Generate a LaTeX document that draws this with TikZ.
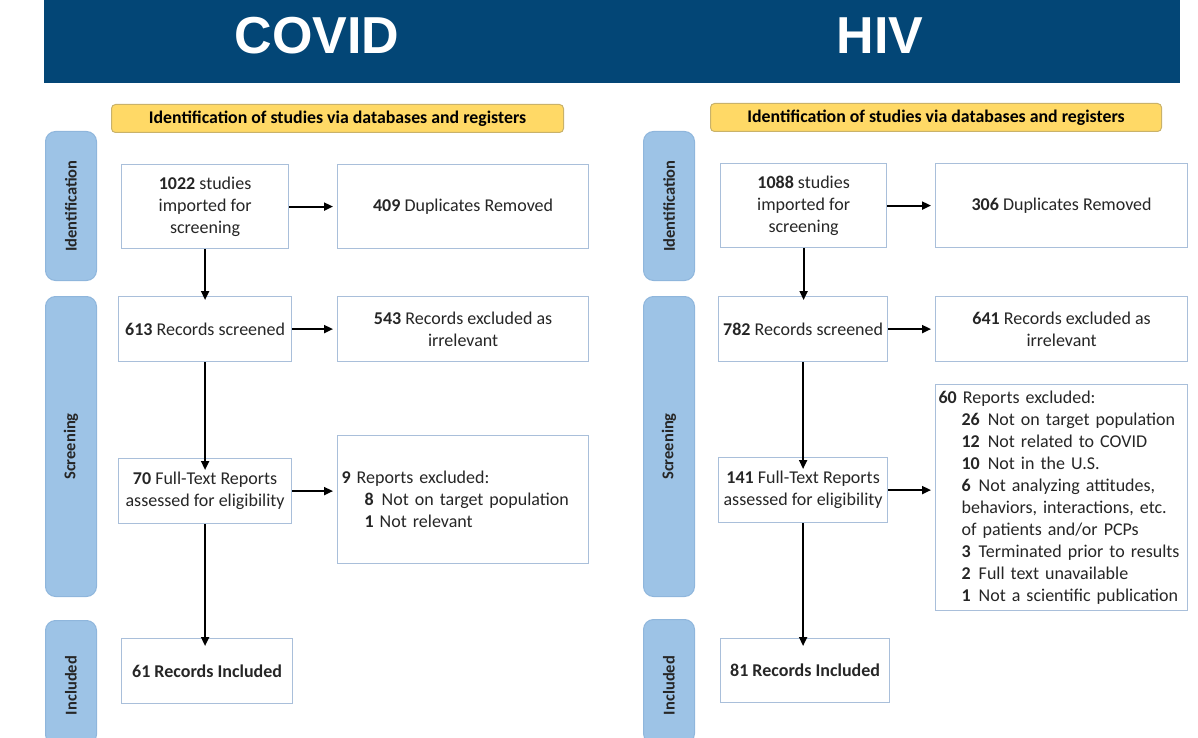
\documentclass[tikz,border=0pt]{standalone}
\usepackage{fontspec}
\setmainfont{Carlito}
\newfontfamily\titlefont{Liberation Sans}
\usetikzlibrary{arrows.meta}
\definecolor{bannerblue}{HTML}{034676}
\definecolor{hdrfill}{HTML}{FFD966}
\definecolor{hdrdraw}{HTML}{C9B26A}
\definecolor{sidefill}{HTML}{9DC3E6}
\definecolor{sidedraw}{HTML}{8FB6DC}
\definecolor{boxdraw}{HTML}{A9BFDA}
\definecolor{txt}{HTML}{262626}
\tikzset{
  x=1pt, y=-1pt,
  box/.style={draw=boxdraw, line width=1.2pt, fill=white, inner sep=0pt, anchor=north west, align=center,
    text=txt, font=\fontsize{18}{22}\selectfont},
  hdr/.style={draw=hdrdraw, line width=1pt, fill=hdrfill, rounded corners=4pt, anchor=north west, inner sep=0pt,
    font=\fontsize{17.8}{20}\selectfont\bfseries, text=black},
  side/.style={draw=sidedraw, line width=1pt, fill=sidefill, rounded corners=10pt, anchor=north west, inner sep=0pt},
  sidetxt/.style={rotate=90, font=\fontsize{16.5}{19}\selectfont\bfseries, text=txt},
  arr/.style={-{Triangle[length=9pt,width=8pt]}, line width=2pt, black},
  ttl/.style={text=white, font=\titlefont\fontsize{52}{60}\selectfont\bfseries}
}
\begin{document}
\begin{tikzpicture}
\useasboundingbox (0,0) rectangle (1198,738);
% banner
\node[fill=bannerblue, anchor=north west, minimum width=1136pt, minimum height=83pt, inner sep=0pt] (banner) at (44,0) {};
\node[ttl] (tcovid) at (317,36) {COVID};
\node[ttl] (thiv) at (880,36) {HIV};

% ---------------- COVID ----------------
\node[hdr, minimum width=452pt, minimum height=28pt] (lh) at (111,104) {Identification of studies via databases and registers};
\node[side, minimum width=51pt, minimum height=149pt] (ls1) at (45,131) {};
\node[sidetxt] at (ls1.center) {Identification};
\node[side, minimum width=51pt, minimum height=300pt] (ls2) at (45,296) {};
\node[sidetxt] at (ls2.center) {Screening};
\node[side, minimum width=51pt, minimum height=124pt] (ls3) at (45,620) {};
\node[sidetxt] at ([yshift=-3pt]ls3.center) {Included};

\node[box, minimum width=167pt, minimum height=84pt] (la) at (121,164) {\textbf{1022} studies\\imported for\\screening};
\node[box, minimum width=251pt, minimum height=84pt] (lb) at (337,164) {\textbf{409} Duplicates Removed};
\node[box, minimum width=173pt, minimum height=65pt] (lc) at (118,296) {\textbf{613} Records screened};
\node[box, minimum width=251pt, minimum height=65pt] (ld) at (337,296) {\textbf{543} Records excluded as\\irrelevant};
\node[box, minimum width=173pt, minimum height=65pt] (le) at (118,458) {\textbf{70} Full-Text Reports\\assessed for eligibility};
\node[box, minimum width=251pt, minimum height=128pt, align=left, text width=243pt] (lf) at (337,435)
  {\textbf{9} Reports excluded:\\
   \hspace*{23pt}\textbf{8}\hspace{8pt}Not on target population\\
   \hspace*{23pt}\textbf{1} Not relevant};
\node[box, minimum width=171pt, minimum height=65pt] (lg) at (121,638) {\textbf{61 Records Included}};

\draw[arr] (la.east) -- ([xshift=-4pt]lb.west);
\draw[arr] (la.south) -- ([yshift=-4pt]la.south |- lc.north);
\draw[arr] (lc.east) -- ([xshift=-4pt]ld.west);
\draw[arr] (lc.south) -- ([yshift=-12pt]lc.south |- le.north);
\draw[arr] (le.east) -- ([xshift=-4pt]le.east -| lf.west);
\draw[arr] (le.south) -- ([yshift=-8pt]le.south |- lg.north);

% ---------------- HIV ----------------
\node[hdr, minimum width=451pt, minimum height=28pt] (rh) at (710,103) {Identification of studies via databases and registers};
\node[side, minimum width=51pt, minimum height=149pt] (rs1) at (643,131) {};
\node[sidetxt] at (rs1.center) {Identification};
\node[side, minimum width=51pt, minimum height=300pt] (rs2) at (643,296) {};
\node[sidetxt] at (rs2.center) {Screening};
\node[side, minimum width=51pt, minimum height=124pt] (rs3) at (643,619) {};
\node[sidetxt] at ([yshift=-4pt]rs3.center) {Included};

\node[box, minimum width=166pt, minimum height=84pt] (ra) at (720,163) {\textbf{1088} studies\\imported for\\screening};
\node[box, minimum width=252pt, minimum height=84pt] (rb) at (935,163) {\textbf{306} Duplicates Removed};
\node[box, minimum width=169pt, minimum height=65pt] (rc) at (718,296) {\textbf{782} Records screened};
\node[box, minimum width=252pt, minimum height=65pt] (rd) at (935,296) {\textbf{641} Records excluded as\\irrelevant};
\node[box, minimum width=169pt, minimum height=65pt] (re) at (718,457) {\textbf{141} Full-Text Reports\\assessed for eligibility};
\node[box, minimum width=252pt, minimum height=226pt, align=left, text width=246pt] (rf) at (935,384)
  {\textbf{60} Reports excluded:\\
   \hspace*{23pt}\textbf{26}\hspace{8pt}Not on target population\\
   \hspace*{23pt}\textbf{12}\hspace{8pt}Not related to COVID\\
   \hspace*{23pt}\textbf{10}\hspace{8pt}Not in the U.S.\\
   \hspace*{23pt}\textbf{6}\hspace{8pt}Not analyzing attitudes,\\
   \hspace*{23pt}behaviors, interactions, etc.\\
   \hspace*{23pt}of patients and/or PCPs\\
   \hspace*{23pt}\textbf{3}\hspace{8pt}Terminated prior to results\\
   \hspace*{23pt}\textbf{2}\hspace{8pt}Full text unavailable\\
   \hspace*{23pt}\textbf{1}\hspace{8pt}Not a scientific publication};
\node[box, minimum width=169pt, minimum height=64pt] (rg) at (720,638) {\textbf{81 Records Included}};

\draw[arr] (ra.east) -- ([xshift=-4pt]rb.west);
\draw[arr] (ra.south) -- ([yshift=-4pt]ra.south |- rc.north);
\draw[arr] (rc.east) -- ([xshift=-4pt]rd.west);
\draw[arr] (rc.south) -- ([yshift=-12pt]rc.south |- re.north);
\draw[arr] (re.east) -- ([xshift=-4pt]re.east -| rf.west);
\draw[arr] (re.south) -- ([yshift=-8pt]re.south |- rg.north);
\end{tikzpicture}
\end{document}
